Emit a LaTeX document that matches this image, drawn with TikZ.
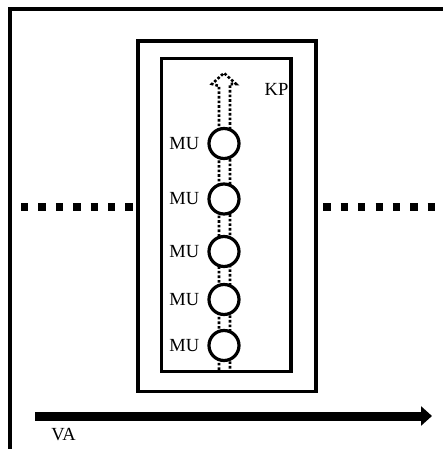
\documentclass[tikz,border=0pt]{standalone}
\usepackage{fontspec}
\setmainfont{Liberation Serif}
\usetikzlibrary{arrows.meta}

\begin{document}
\begin{tikzpicture}[x=1pt, y=-1pt,
  box/.style={draw, line width=3.2pt, inner sep=0pt},
  txt/.style={inner sep=0pt, font=\fontsize{18.5}{20}\selectfont},
  mu/.style={circle, draw, fill=white, line width=3.2pt, minimum size=30pt,
    inner sep=0pt, label={[txt, label distance=8pt]left:MU}},
  track/.style={line width=7.3pt, dash pattern=on 7.3pt off 10.1pt},
  flow/.style={line width=2.6pt, dash pattern=on 2.6pt off 2pt},
  move/.style={line width=9pt, -{Triangle[length=11pt, width=19pt]}}]
  \useasboundingbox (0,0) rectangle (442,449);
  % Frame
  \draw[line width=3.2pt] (10,470) -- (10,9) -- (470,9);
  % Boxes
  \node[box, minimum width=178pt, minimum height=350.5pt] (outbox) at (227,216.25) {};
  \node[box, minimum width=129.5pt, minimum height=313.4pt] (inbox) at (226.25,215) {};
  % Dotted tracks
  \coordinate (tl1) at (21,207);
  \coordinate (tl2) at (133,207);
  \coordinate (tr1) at (323.3,207);
  \coordinate (tr2) at (436,207);
  \draw[track] (tl1) -- (tl2);
  \draw[track] (tr1) -- (tr2);
  % Flow
  \coordinate (fl) at (219,370);
  \coordinate (fr) at (230,370);
  \draw[flow] (fl) -- (219,86) -- (212,84) -- (224,73) -- (236,84) -- (230,84) -- (fr);
  % Define nodes
  \node[mu] (mu1) at (224,143.5) {};
  \node[mu] (mu2) at (224,199) {};
  \node[mu] (mu3) at (224,251.5) {};
  \node[mu] (mu4) at (224,299.5) {};
  \node[mu] (mu5) at (224,345.5) {};
  \node[txt] (kp) at (276.5,89) {KP};
  % Motion
  \coordinate (va1) at (35,416);
  \coordinate (va2) at (432,416);
  \draw[move] (va1) -- (va2);
  \node[txt] (va) at (63.5,435) {VA};
\end{tikzpicture}
\end{document}
